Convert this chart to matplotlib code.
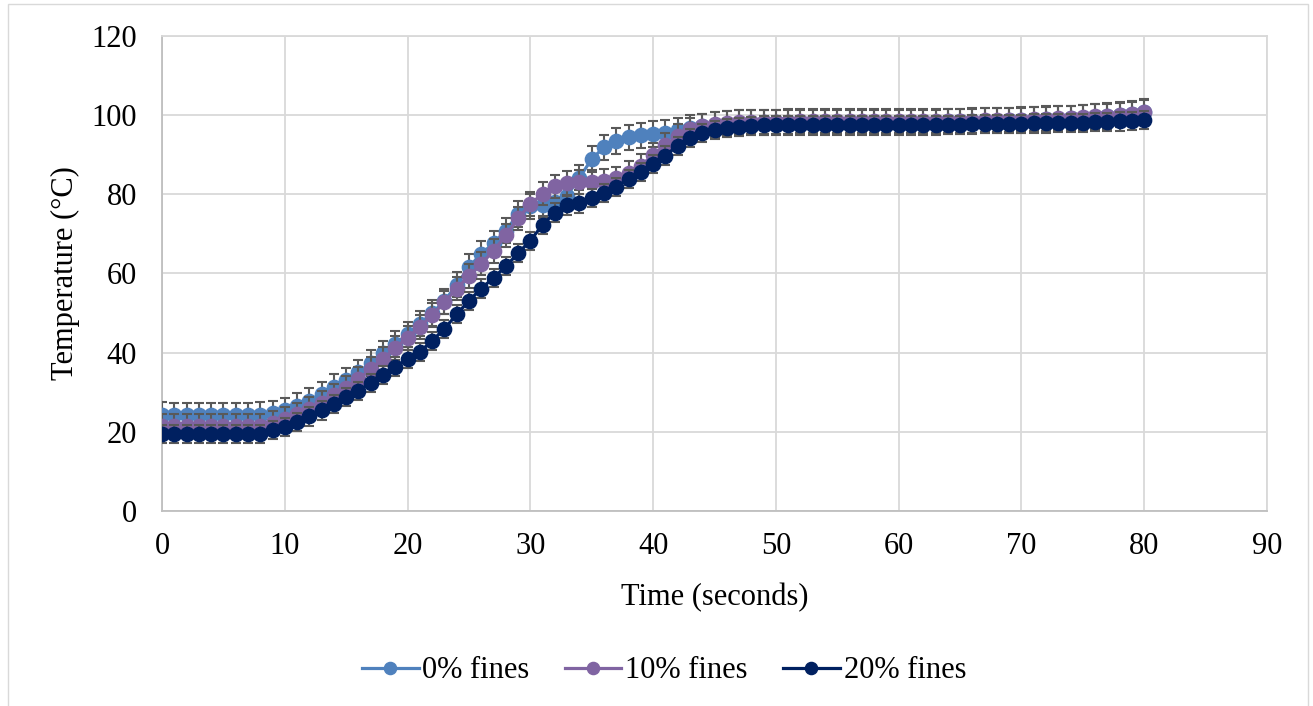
import numpy as np
import matplotlib.pyplot as plt
from matplotlib.patches import Rectangle

plt.rcParams['font.family'] = ['Liberation Serif', 'DejaVu Serif']

# time in seconds (one reading per second)
time_s = np.arange(0, 81)

temp_0 = [24.3, 24.2, 24.2, 24.2, 24.2, 24.2, 24.2, 24.2, 24.3,
          24.7, 25.4, 26.5, 27.9, 29.5, 31.3, 33.0, 35.0, 37.4, 39.8,
          42.2, 44.6, 47.3, 50.0, 53.0, 57.2, 61.6, 65.0, 67.6, 70.8,
          75.0, 77.0, 77.3, 78.0, 79.7, 84.2, 88.9, 91.9, 93.5, 94.4,
          94.9, 95.2, 95.6, 96.2, 96.8, 97.2, 97.5, 97.8, 98.0, 98.1, 98.2,
          98.2, 98.3, 98.3, 98.3, 98.3, 98.3, 98.3, 98.3, 98.3, 98.3,
          98.3, 98.3, 98.3, 98.3, 98.4, 98.4, 98.5, 98.6, 98.6, 98.7,
          98.8, 98.9, 99.0, 99.1, 99.2, 99.4, 99.6, 99.8, 100.1, 100.4, 100.9]

temp_10 = [21.5, 21.4, 21.4, 21.4, 21.4, 21.4, 21.4, 21.4, 21.5,
           22.2, 23.2, 24.4, 25.8, 27.4, 29.2, 31.1, 33.3, 35.8, 38.4,
           41.2, 43.8, 46.5, 49.5, 52.7, 56.2, 59.3, 62.5, 65.7, 69.6,
           73.9, 77.5, 80.2, 82.0, 82.8, 83.2, 83.2, 83.4, 84.0, 85.3,
           87.2, 90.0, 92.4, 94.8, 96.4, 97.3, 97.8, 98.1, 98.2, 98.3, 98.3,
           98.3, 98.3, 98.4, 98.4, 98.4, 98.4, 98.4, 98.4, 98.4, 98.4,
           98.4, 98.4, 98.4, 98.4, 98.5, 98.5, 98.6, 98.7, 98.7, 98.8,
           98.9, 99.0, 99.1, 99.2, 99.3, 99.5, 99.7, 99.9, 100.1, 100.4, 100.8]

temp_20 = [19.5, 19.5, 19.5, 19.5, 19.5, 19.5, 19.5, 19.5, 19.5,
           20.4, 21.3, 22.5, 23.9, 25.4, 27.1, 28.8, 30.4, 32.4, 34.4,
           36.5, 38.4, 40.2, 43.0, 46.0, 49.7, 53.1, 56.2, 58.9, 61.8,
           65.1, 68.3, 72.3, 75.4, 77.2, 77.7, 79.0, 80.3, 81.9, 83.9,
           85.7, 87.6, 89.8, 92.3, 94.3, 95.5, 96.2, 96.8, 97.1, 97.3, 97.4,
           97.5, 97.5, 97.5, 97.5, 97.5, 97.5, 97.5, 97.5, 97.5, 97.5,
           97.5, 97.5, 97.5, 97.6, 97.6, 97.6, 97.7, 97.7, 97.7, 97.8,
           97.8, 97.9, 97.9, 98.0, 98.0, 98.1, 98.2, 98.3, 98.4, 98.5, 98.7]

# standard deviation of the repeated runs
err_0 = 3.2
err_10 = 3.0
err_20 = 2.3

labels = ['0% fines', '10% fines', '20% fines']
colors = ['#4F81BD', '#8064A2', '#002060']

W, H = 1313, 706
fig = plt.figure(figsize=(W / 100, H / 100), dpi=100)
fig.patches.append(Rectangle((8 / W, -0.01), 1300 / W, 1 - 4 / H + 0.01,
                             transform=fig.transFigure, fill=False,
                             edgecolor='#D9D9D9', linewidth=1.0))

ax = fig.add_axes([162 / W, 1 - 511 / H, (1267 - 162) / W, (511 - 36) / H])

series = [(temp_0, err_0), (temp_10, err_10), (temp_20, err_20)]
for i, ((temps, err), lab, col) in enumerate(zip(series, labels, colors)):
    ax.errorbar(time_s, temps, yerr=err, fmt='none', ecolor='#595959',
                elinewidth=1.5, capsize=3.4, capthick=1.5, zorder=3 + 2 * i)
    ax.plot(time_s, temps, '-o', color=col, lw=2.3, ms=10.3, label=lab,
            zorder=4 + 2 * i)

ax.set_xlim(0, 90)
ax.set_ylim(0, 120)
ax.set_xticks(range(0, 91, 10))
ax.set_yticks(range(0, 121, 20))
ax.grid(True, color='#D9D9D9', linewidth=1.3)
ax.set_axisbelow(True)
for sp in ax.spines.values():
    sp.set_color('#D9D9D9')
    sp.set_linewidth(1.3)
ax.spines['left'].set_color('#BFBFBF')
ax.spines['bottom'].set_color('#BFBFBF')
ax.tick_params(length=0, labelsize=22)
ax.tick_params(axis='x', pad=15)
ax.tick_params(axis='y', pad=18)

ax.set_xlabel('Time (seconds)', fontsize=22, labelpad=16)
ax.set_ylabel('Temperature (°C)', fontsize=22, labelpad=8)

fig.legend(loc='center', bbox_to_anchor=(664 / W, 1 - 671 / H), ncol=3,
           frameon=False, fontsize=22, handlelength=1.85, handletextpad=0.13,
           columnspacing=1.15, markerscale=0.85)

fig.savefig('out.png', dpi=100)
